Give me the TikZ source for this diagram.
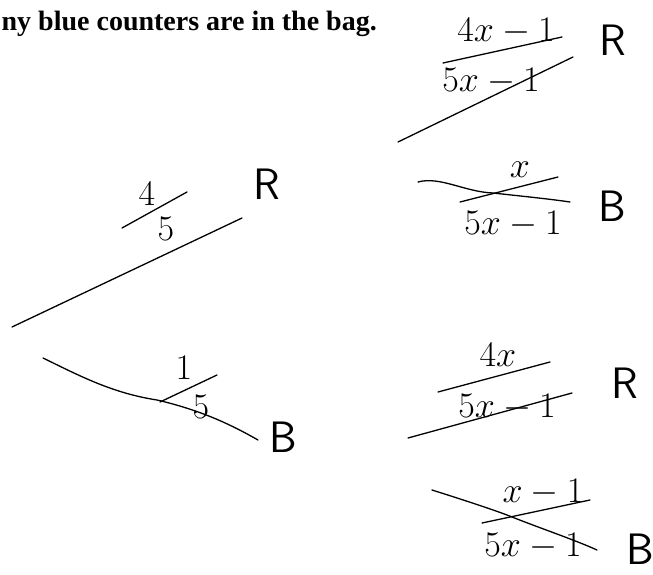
\RequirePackage{fix-cm}
\documentclass[tikz,border=0pt]{standalone}
\usepackage{fontspec}
\setmainfont{Liberation Serif}
\usepackage{tikz}
\usetikzlibrary{positioning}

\begin{document}
\begin{tikzpicture}[x=1pt,y=-1pt,line width=1.3pt,line cap=round,
  every node/.style={inner sep=0pt},
  hand/.style={font=\fontsize{36}{38}\selectfont},
  letter/.style={font=\sffamily\fontsize{44}{46}\selectfont}]
  \useasboundingbox (0,0) rectangle (653,575);
  \node[anchor=base west,font=\bfseries\fontsize{28}{30}\selectfont] (title) at (1,31) {ny blue counters are in the bag.};
  % first stage
  \coordinate (startR) at (12,327);
  \coordinate (endR) at (242,218);
  \coordinate (startB) at (43,358);
  \coordinate (midB) at (157,400);
  \coordinate (endB) at (258,440);
  \draw (startR) -- (endR);
  \draw (startB) .. controls (80,376) and (112,393) .. (midB)
        .. controls (200,410) and (230,424) .. (endB);
  \node[hand] (numR) at (147,194) {$4$};
  \node[hand] (denR) at (166,229) {$5$};
  \coordinate (barRa) at (122,228);
  \coordinate (barRb) at (187,192);
  \draw (barRa) -- (barRb);
  \node[letter] (R1) at (267,184) {R};
  \node[hand] (numB) at (184,368) {$1$};
  \node[hand] (denB) at (201,407) {$5$};
  \coordinate (barBa) at (160,402);
  \coordinate (barBb) at (217,375);
  \draw (barBa) -- (barBb);
  \node[letter] (B1) at (283,437) {B};
  % second stage after R
  \coordinate (startRR) at (398,142);
  \coordinate (endRR) at (573,57);
  \draw (startRR) -- (endRR);
  \node[hand] (numRR) at (506,31) {$4x-1$};
  \node[hand] (denRR) at (491,81) {$5x-1$};
  \coordinate (barRRa) at (443,63);
  \coordinate (barRRb) at (562,37);
  \draw (barRRa) -- (barRRb);
  \node[letter] (RR) at (613,40) {R};
  \coordinate (startRB) at (418,182);
  \coordinate (midRB) at (493,193);
  \coordinate (endRB) at (570,202);
  \draw (startRB) .. controls (440,176) and (465,192) .. (midRB)
        .. controls (520,196) and (550,199) .. (endRB);
  \node[hand] (numRB) at (520,170) {$x$};
  \node[hand] (denRB) at (513,224) {$5x-1$};
  \coordinate (barRBa) at (460,202);
  \coordinate (barRBb) at (558,177);
  \draw (barRBa) -- (barRBb);
  \node[letter] (RB) at (612,206) {B};
  % second stage after B
  \coordinate (startBR) at (408,438);
  \coordinate (endBR) at (572,393);
  \draw (startBR) -- (endBR);
  \node[hand] (numBR) at (498,355) {$4x$};
  \node[hand] (denBR) at (507,407) {$5x-1$};
  \coordinate (barBRa) at (438,392);
  \coordinate (barBRb) at (550,362);
  \draw (barBRa) -- (barBRb);
  \node[letter] (BR) at (625,383) {R};
  \coordinate (startBB) at (432,490);
  \coordinate (endBB) at (597,550);
  \draw (startBB) .. controls (470,502) and (500,512) .. (512,517)
        .. controls (545,530) and (575,540) .. (endBB);
  \node[hand] (numBB) at (543,492) {$x-1$};
  \node[hand] (denBB) at (533,546) {$5x-1$};
  \coordinate (barBBa) at (482,523);
  \coordinate (barBBb) at (590,500);
  \draw (barBBa) -- (barBBb);
  \node[letter] (BB) at (640,549) {B};
\end{tikzpicture}
\end{document}
